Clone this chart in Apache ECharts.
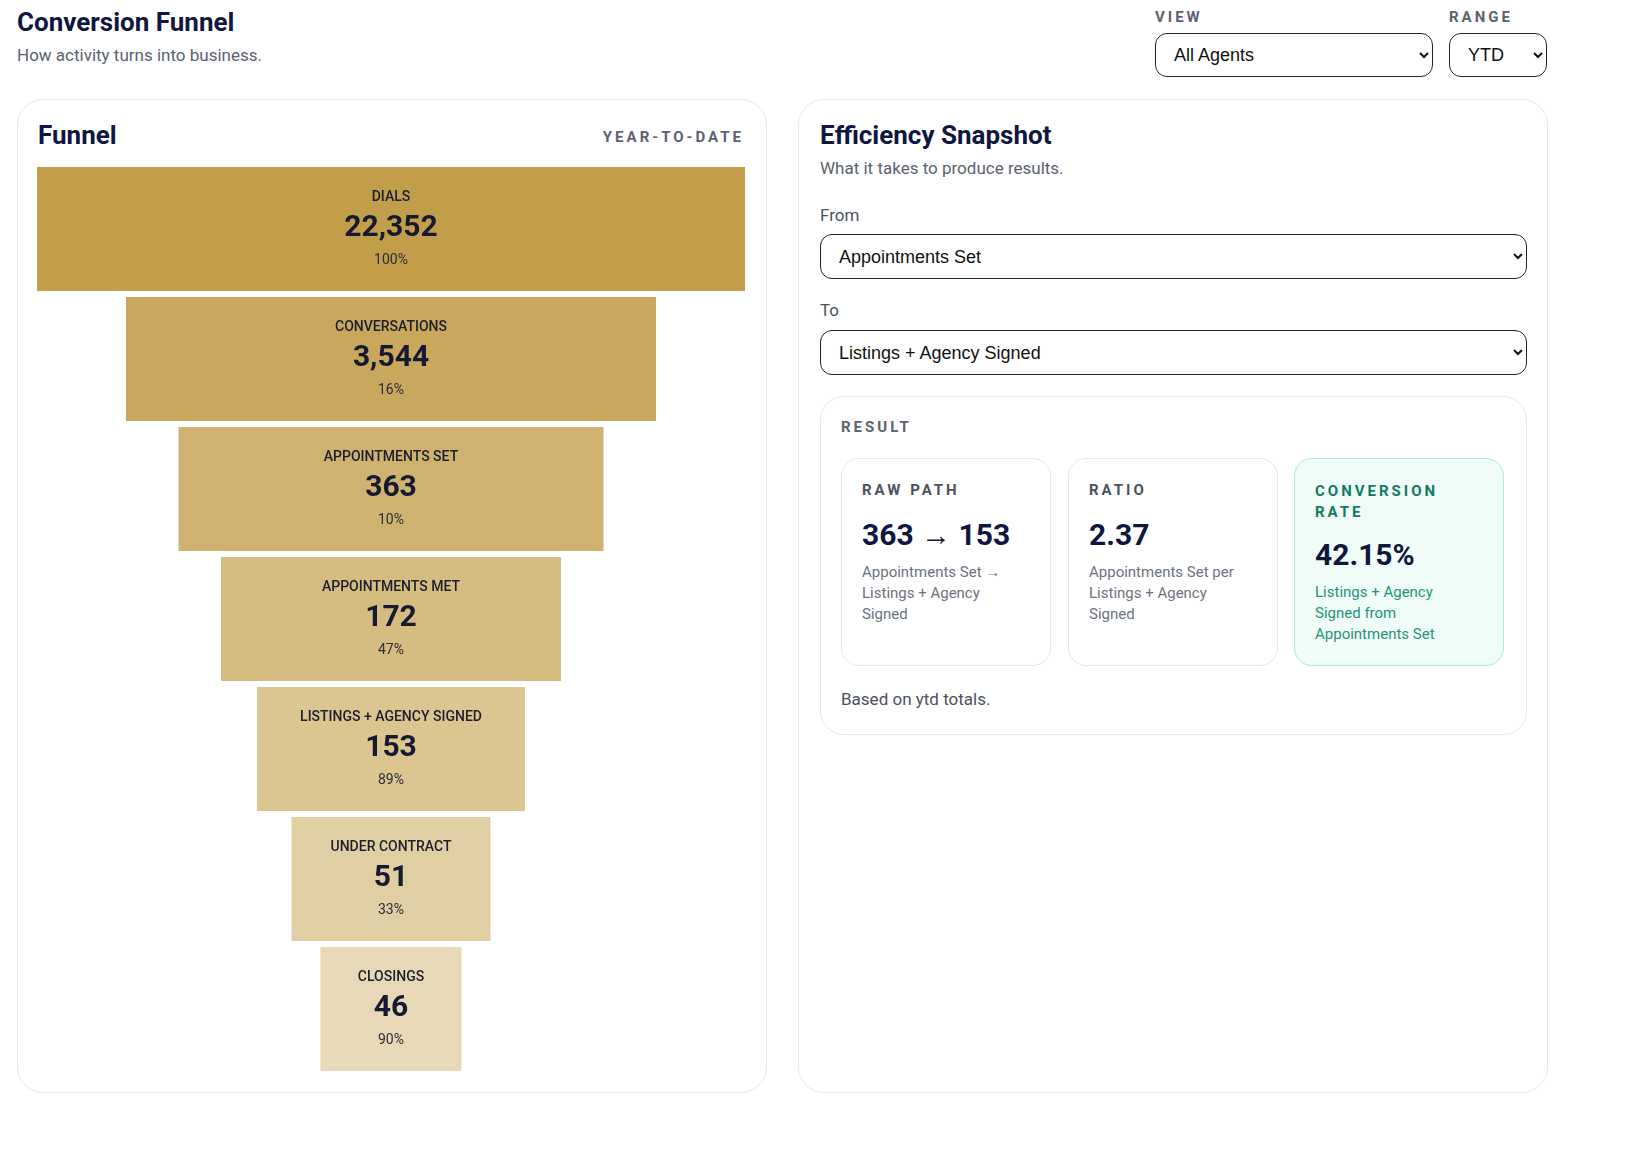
<!DOCTYPE html>
<html><head><meta charset="utf-8">
<script src="https://cdn.jsdelivr.net/npm/echarts@6/dist/echarts.min.js"></script>
<style>
*{box-sizing:border-box}
body{margin:0;width:1636px;height:1156px;background:#fff;font-family:Roboto,"Noto Sans",sans-serif;color:#0f1640;position:relative;overflow:hidden}
.abs{position:absolute}
h1{position:absolute;left:17px;top:7px;margin:0;font-size:26px;font-weight:700;color:#0f1640}
.sub{color:#5b6270;font-size:17px}
.cap{font-size:15px;font-weight:700;letter-spacing:3px;color:#5b6270}
select{font-family:"Liberation Sans",Arial,sans-serif;font-size:18px;color:#111;background:#fff;border:1.5px solid #1f2433;border-radius:12px;padding:0 14px}
.card{position:absolute;border:1.5px solid #e8e8ec;border-radius:26px;background:#fff}
.rc{position:absolute;top:458px;width:210px;height:208px;border:1.5px solid #e5e6ea;border-radius:18px;padding:22px 20px}
.rc .t{font-size:15px;font-weight:700;letter-spacing:3px;color:#4b5260}
.rc .v{font-size:30px;font-weight:700;color:#0f1640;margin-top:18px}
.rc .d{font-size:15px;color:#6b7280;line-height:21px;margin-top:10px}
</style></head><body>
<h1>Conversion Funnel</h1>
<div class="abs sub" style="left:17px;top:45px">How activity turns into business.</div>
<div class="abs cap" style="left:1155px;top:8px">VIEW</div>
<select class="abs" style="left:1155px;top:33px;width:278px;height:44px"><option>All Agents</option></select>
<div class="abs cap" style="left:1449px;top:8px">RANGE</div>
<select class="abs" style="left:1449px;top:33px;width:98px;height:44px"><option>YTD</option></select>

<div class="card" style="left:17px;top:99px;width:750px;height:994px"></div>
<div class="abs" style="left:38px;top:120px;font-size:26px;font-weight:700">Funnel</div>
<div class="abs cap" style="left:560px;width:184px;text-align:right;top:128px">YEAR-TO-DATE</div>
<div id="chart" class="abs" style="left:37px;top:164px;width:708px;height:910px"></div>

<div class="card" style="left:798px;top:99px;width:750px;height:994px"></div>
<div class="abs" style="left:820px;top:120px;font-size:26px;font-weight:700">Efficiency Snapshot</div>
<div class="abs sub" style="left:820px;top:158px">What it takes to produce results.</div>
<div class="abs" style="left:820px;top:205px;font-size:17px;color:#4b5260">From</div>
<select class="abs" style="left:820px;top:234px;width:707px;height:45px"><option>Appointments Set</option></select>
<div class="abs" style="left:820px;top:300px;font-size:17px;color:#4b5260">To</div>
<select class="abs" style="left:820px;top:330px;width:707px;height:45px"><option>Listings + Agency Signed</option></select>
<div class="card" style="left:820px;top:396px;width:707px;height:339px;border-radius:24px"></div>
<div class="abs cap" style="left:841px;top:418px">RESULT</div>
<div class="rc" style="left:841px"><div class="t">RAW PATH</div><div class="v">363 → 153</div><div class="d">Appointments Set →<br>Listings + Agency<br>Signed</div></div>
<div class="rc" style="left:1068px"><div class="t">RATIO</div><div class="v">2.37</div><div class="d">Appointments Set per<br>Listings + Agency<br>Signed</div></div>
<div class="rc" style="left:1294px;background:#effcf8;border-color:#a8eadb"><div class="t" style="color:#137a62;line-height:21px">CONVERSION<br>RATE</div><div class="v" style="margin-top:14px">42.15%</div><div class="d" style="color:#1f9479">Listings + Agency<br>Signed from<br>Appointments Set</div></div>
<div class="abs" style="left:841px;top:689px;font-size:17px;color:#4b5260">Based on ytd totals.</div>

<script>
const stages = ["DIALS","CONVERSATIONS","APPOINTMENTS SET","APPOINTMENTS MET","LISTINGS + AGENCY SIGNED","UNDER CONTRACT","CLOSINGS"];
const values = [22352,3544,363,172,153,51,46];
const pcts = ["100%","16%","10%","47%","89%","33%","90%"];
const barWidths = [708,530,425,340,268,199,141];
const colors = ["#c39e4a","#c9a85e","#cfb26f","#d5bc80","#dbc692","#e1cfa4","#e7d9b7"];
const chart = echarts.init(document.getElementById('chart'));
chart.setOption({
  animation:false,
  grid:{left:0,right:0,top:0,bottom:0},
  xAxis:{type:'value',min:-354,max:354,show:false},
  yAxis:{type:'category',data:stages,inverse:true,show:false},
  series:[{type:'custom',
    data:stages.map((s,i)=>[barWidths[i],i,values[i]]),
    encode:{x:0,y:1},
    renderItem:(params,api)=>{
      const i=params.dataIndex, w=api.value(0);
      const c=api.coord([0,api.value(1)]);
      const l=api.coord([-w/2,api.value(1)]), r=api.coord([w/2,api.value(1)]);
      const h=124;
      return {type:'group',children:[
        {type:'rect',shape:{x:l[0],y:c[1]-h/2,width:r[0]-l[0],height:h},style:{fill:colors[i]}},
        {type:'text',style:{x:c[0],y:c[1]-32,text:stages[i],align:'center',verticalAlign:'middle',font:'500 14px Roboto, sans-serif',fill:'#1c1f2b',textLetterSpacing:0.6}},
        {type:'text',style:{x:c[0],y:c[1]-1,text:values[i].toLocaleString('en-US'),align:'center',verticalAlign:'middle',font:'700 30px Roboto, sans-serif',fill:'#151a30'}},
        {type:'text',style:{x:c[0],y:c[1]+31,text:pcts[i],align:'center',verticalAlign:'middle',font:'14px Roboto, sans-serif',fill:'#2a2d38'}}
      ]};
    }}]
});
</script>
</body></html>
